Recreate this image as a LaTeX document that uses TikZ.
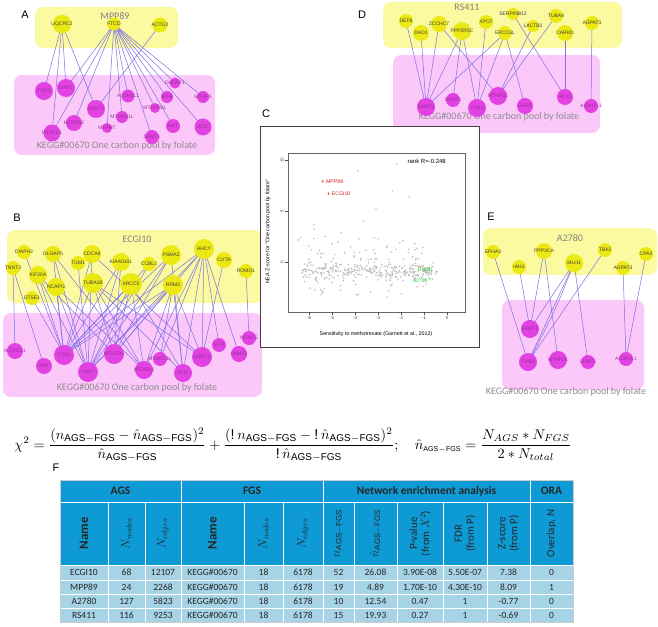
\documentclass[tikz,border=0pt]{standalone}
\usepackage{fontspec}
\setmainfont{Liberation Sans}
\newfontfamily\calib{Carlito}
\usepackage{amsmath}
\usepackage{graphicx}
\usetikzlibrary{positioning,calc}

\definecolor{boxyellow}{RGB}{252,250,160}
\definecolor{nodeyellow}{RGB}{236,232,20}
\definecolor{boxpink}{RGB}{252,200,250}
\definecolor{nodepink}{RGB}{226,66,226}
\definecolor{linkblue}{RGB}{124,112,226}
\definecolor{labpink}{RGB}{150,50,150}
\definecolor{headblue}{RGB}{14,154,212}
\definecolor{rowblue}{RGB}{166,211,229}
\definecolor{ptgray}{RGB}{190,190,190}
\definecolor{ptred}{RGB}{225,30,30}
\definecolor{ptgreen}{RGB}{40,200,40}

\pgfdeclarelayer{boxes}\pgfdeclarelayer{links}
\pgfsetlayers{boxes,links,main}

\newcommand{\bang}{\text{!}\mkern3.5mu}

\tikzset{
  ynode/.style={circle, fill=nodeyellow, inner sep=0pt},
  pnode/.style={circle, fill=nodepink, inner sep=0pt},
  ylab/.style={font=\fontsize{5}{5.5}\selectfont, text=black!75, inner sep=0pt},
  plab/.style={font=\fontsize{5}{5.5}\selectfont, text=labpink, inner sep=0pt},
  ybox/.style={fill=boxyellow, rounded corners=8pt},
  pbox/.style={fill=boxpink, rounded corners=8pt},
  settitle/.style={font=\calib\fontsize{10}{12}\selectfont, text=black!50, inner sep=0pt},
  keggtext/.style={font=\calib\fontsize{10}{12}\selectfont, text=black!45, inner sep=0pt},
  ppi/.style={draw=linkblue, line width=0.5pt},
  panelletter/.style={font=\fontsize{11}{13}\selectfont, inner sep=0pt},
  axtext/.style={font=\fontsize{4.5}{5}\selectfont, inner sep=1pt},
  ptlab/.style={font=\fontsize{5.2}{6}\selectfont, inner sep=0.8pt},
  headone/.style={font=\calib\bfseries\fontsize{11.5}{13}\selectfont, text=black!85},
  headtwo/.style={font=\calib\fontsize{11}{12}\selectfont, text=black!85, rotate=90, align=center, inner sep=0pt},
  cell/.style={font=\calib\fontsize{9.5}{11}\selectfont, text=black!85, inner sep=0pt},
  sep/.style={white, line width=0.8pt}
}

\begin{document}
\begin{tikzpicture}[x=1pt, y=-1pt]
\useasboundingbox (0,0) rectangle (658,626);

% panel letters
\node[panelletter] (lab-a) at (25,15) {A};
\node[panelletter] (lab-b) at (17,218) {B};
\node[panelletter] (lab-c) at (266,114) {C};
\node[panelletter] (lab-d) at (362,15) {D};
\node[panelletter] (lab-e) at (491,217) {E};
\node[panelletter] (lab-f) at (56,468) {F};

% panel A
\begin{pgfonlayer}{boxes}
\path[ybox] (35,7) rectangle (178,48);
\path[pbox] (14,75) rectangle (215,155);
\end{pgfonlayer}
\node[settitle] (a-title) at (115,16) {MPP89};
\node[keggtext] (a-kegg) at (117,146) {KEGG\#00670 One carbon pool by folate};
\foreach \n/\x/\y/\r in {UQCRC2/62/24/9.3, FTCD/114/24/6.5, ACTG2/160/25/7.5}
  {\node[ynode, minimum size=2*\r] (a-\n) at (\x,\y) {};
   \node[ylab] (a-\n-t) at (a-\n) {\n};}
\foreach \n/\x/\y/\r in {TYMS/44/91/9, GART/66/88/9, SHMT2/96/109/9, ALDH1L1/128/96/6.5,
    DHFRP1/175/83/5.5, MTR/167/97/6, MTHFS/203/97/6, MTHFD2L/155/108/5, MTHFD1L/122/117/6,
    MTHFD2/74/123/8, MTFMT/107/128/5, MTHFD1/52/133/8.5, SHMT1/152/137/7, AMT/173/126/7, ATIC/203/127/8.5}
  {\node[pnode, minimum size=2*\r] (a-\n) at (\x,\y) {};
   \node[plab] (a-\n-t) at (a-\n) {\n};}
\begin{pgfonlayer}{links}
\foreach \src/\dst in {UQCRC2/TYMS, UQCRC2/GART, UQCRC2/MTHFD1, UQCRC2/SHMT2, ACTG2/SHMT2,
    FTCD/GART, FTCD/MTHFD1, FTCD/MTHFD2, FTCD/MTFMT, FTCD/MTHFD1L, FTCD/ALDH1L1, FTCD/SHMT1,
    FTCD/MTHFD2L, FTCD/AMT, FTCD/MTR, FTCD/ATIC, FTCD/DHFRP1, FTCD/MTHFS}
  \draw[ppi] (a-\src.center) -- (a-\dst.center);
\end{pgfonlayer}

% panel D
\begin{pgfonlayer}{boxes}
\path[ybox] (383,2) rectangle (622,48);
\path[pbox] (393,55) rectangle (600,133);
\end{pgfonlayer}
\node[settitle] (d-title) at (467,7) {RS411};
\node[keggtext] (d-kegg) at (499,117) {KEGG\#00670 One carbon pool by folate};
\foreach \n/\x/\y/\r in {DEF8/406/21/7, DAD1/421/33/8, ZCCHC7/439/24/8, PPP2R5C/462/31/9, XPO7/486/22/7,
    SERPINB12/513/14/6, ERCC6L/505/33/7, LACTB2/533/26/6, TUBA8/556/16/7, CARKD/565/33/8, AGPAT3/592/23/7}
  {\node[ynode, minimum size=2*\r] (d-\n) at (\x,\y) {};
   \node[ylab] (d-\n-t) at (d-\n) {\n};}
\foreach \n/\x/\y/\r in {SHMT2/426/107/9, SHMT1/453/100/7, TYMS/477/108/9, MTHFD1/498/96/9,
    GART/525/106/8, ATIC/565/97/8, ALDH1L1/591/106/7}
  {\node[pnode, minimum size=2*\r] (d-\n) at (\x,\y) {};
   \node[plab] (d-\n-t) at (d-\n) {\n};}
\begin{pgfonlayer}{links}
\foreach \src/\dst in {DEF8/SHMT2, DAD1/SHMT2, ZCCHC7/SHMT2, PPP2R5C/SHMT2, PPP2R5C/SHMT1, PPP2R5C/TYMS,
    ZCCHC7/MTHFD1, XPO7/TYMS, ERCC6L/TYMS, ERCC6L/GART, ERCC6L/SHMT2, LACTB2/MTHFD1, TUBA8/MTHFD1,
    SERPINB12/ATIC, CARKD/ATIC, AGPAT3/ALDH1L1}
  \draw[ppi] (d-\src.center) -- (d-\dst.center);
\end{pgfonlayer}

% panel B
\begin{pgfonlayer}{boxes}
\path[ybox] (7,230) rectangle (262,303);
\path[pbox] (3,313) rectangle (262,397);
\end{pgfonlayer}
\node[settitle] (b-title) at (137,239) {ECGI10};
\node[keggtext] (b-kegg) at (137,388) {KEGG\#00670 One carbon pool by folate};
\foreach \n/\x/\y/\r in {DIAPH3/24/252/7, DLGAP5/53/254/8, CDCA8/92/254/9, TGM1/78/263/7, KIAA0101/121/262/9,
    PSMA2/171/255/10, AHCY/204/249/10, CUTA/224/260/8, TNNT3/13/268/7, KIF20A/38/275/9, NCAPG/56/287/9,
    CCBL2/149/264/7, ROMO1/246/271/7, TUBA1B/93/283/10, XRCC5/131/284/11, RRM2/173/285/10, GTSE1/32/298/7}
  {\node[ynode, minimum size=2*\r] (b-\n) at (\x,\y) {};
   \node[ylab] (b-\n-t) at (b-\n) {\n};}
\foreach \n/\x/\y/\r in {ALDH1L1/15/351/8, AMT/44/366/8, TYMS/64/355/10, GART/88/372/10, MTHFD1/114/354/10,
    MTHFD2/144/370/9, MTHFD1L/160/359/7, ATIC/183/373/9, SHMT2/202/357/10, MTR/219/345/7, SHMT1/239/354/8,
    MTHFS/249/338/7}
  {\node[pnode, minimum size=2*\r] (b-\n) at (\x,\y) {};
   \node[plab] (b-\n-t) at (b-\n) {\n};}
\begin{pgfonlayer}{links}
\foreach \src/\dst in {DIAPH3/TYMS, TNNT3/ALDH1L1, TNNT3/AMT, DLGAP5/TYMS, DLGAP5/GART, DLGAP5/MTHFD2,
    KIF20A/TYMS, KIF20A/GART, KIF20A/MTHFD1, NCAPG/TYMS, NCAPG/GART, NCAPG/MTHFD2, GTSE1/TYMS,
    CDCA8/TYMS, CDCA8/GART, CDCA8/SHMT2, TGM1/GART, TUBA1B/TYMS, TUBA1B/MTHFD1, TUBA1B/MTHFD2,
    TUBA1B/ATIC, TUBA1B/SHMT2, KIAA0101/TYMS, KIAA0101/GART, KIAA0101/MTHFD1, XRCC5/TYMS, XRCC5/GART,
    XRCC5/MTHFD1, XRCC5/MTHFD2, XRCC5/ATIC, CCBL2/TYMS, CCBL2/GART, PSMA2/TYMS, PSMA2/GART,
    PSMA2/MTHFD1, PSMA2/ATIC, RRM2/TYMS, RRM2/GART, RRM2/MTHFD1, RRM2/MTHFD2, RRM2/MTHFD1L,
    RRM2/SHMT2, RRM2/ATIC, AHCY/TYMS, AHCY/GART, AHCY/MTHFD1, AHCY/MTHFD1L, AHCY/ATIC, AHCY/SHMT2,
    AHCY/MTR, AHCY/SHMT1, AHCY/MTHFD2, CUTA/SHMT2, ROMO1/MTHFS}
  \draw[ppi] (b-\src.center) -- (b-\dst.center);
\end{pgfonlayer}

% panel E
\begin{pgfonlayer}{boxes}
\path[ybox] (483,228) rectangle (657,275);
\path[pbox] (502,300) rectangle (644,390);
\end{pgfonlayer}
\node[settitle] (e-title) at (570,238) {A2780};
\node[keggtext] (e-kegg) at (566,392) {KEGG\#00670 One carbon pool by folate};
\foreach \n/\x/\y/\r in {EPHA3/493/252/7, IAH1/519/267/7, PPP3CA/544/251/8, MLH1/574/263/9,
    TBX2/605/250/7, AGPAT3/623/268/7, CPA2/646/254/7}
  {\node[ynode, minimum size=2*\r] (e-\n) at (\x,\y) {};
   \node[ylab] (e-\n-t) at (e-\n) {\n};}
\foreach \n/\x/\y/\r in {SHMT2/530/329/9, TYMS/528/362/9, MTHFD1/558/360/9, SHMT1/588/362/7, ALDH1L1/626/359/7}
  {\node[pnode, minimum size=2*\r] (e-\n) at (\x,\y) {};
   \node[plab] (e-\n-t) at (e-\n) {\n};}
\begin{pgfonlayer}{links}
\foreach \src/\dst in {EPHA3/TYMS, IAH1/SHMT2, PPP3CA/SHMT2, PPP3CA/MTHFD1, MLH1/SHMT2, MLH1/TYMS,
    MLH1/SHMT1, TBX2/TYMS, AGPAT3/ALDH1L1, CPA2/ALDH1L1}
  \draw[ppi] (e-\src.center) -- (e-\dst.center);
\draw[ppi] (e-MLH1.center) to[bend left=4] (e-TYMS.center);
\end{pgfonlayer}

% panel C
\node[draw=black!75, fill=white, line width=0.6pt, minimum width=219pt, minimum height=221pt, anchor=north west] (c-box) at (260,126) {};
\node[draw=black!60, line width=0.4pt, minimum width=177pt, minimum height=159pt, anchor=north west] (c-frame) at (288,153) {};
\node[axtext, rotate=90, font=\fontsize{5.3}{6}\selectfont] (c-ylab) at (268,232) {NEA Z-score for "One carbon pool by folate"};
\node[axtext, font=\fontsize{5.3}{6}\selectfont] (c-xlab) at (376,334) {Sensitivity to methotrexate (Garnett et al., 2012)};
\begin{scope}[shift={(447,262)}, x=23pt, y=10.2pt]
\pgfmathsetseed{17}
\foreach \i in {1,...,290}
  {\pgfmathsetmacro{\u}{-6.3+5.8*rnd}\pgfmathsetmacro{\v}{-0.9+0.5*(rand+rand)}
   \fill[ptgray] (\u,\v) circle (0.9pt);}
\foreach \i in {1,...,40}
  {\pgfmathsetmacro{\u}{-6.4+5.6*rnd}\pgfmathsetmacro{\v}{-3.6+2.6*rnd}
   \fill[ptgray] (\u,\v) circle (0.9pt);}
\foreach \i in {1,...,45}
  {\pgfmathsetmacro{\u}{-6.4+5.4*rnd}\pgfmathsetmacro{\v}{0.2+2.6*rnd*rnd}
   \fill[ptgray] (\u,\v) circle (0.9pt);}
\foreach \u/\v in {-3.88/8.95, -2.19/9.6, -2.38/6.96, -1.65/6.4, -3.09/5.17, -3.64/4.02, -5.78/3.63,
    -5.78/3.2, -6.46/2.16, -5.3/2.5, -4.6/2.9, -5.0/1.8, -4.2/1.5, -3.2/1.2, -2.6/1.6, -5.9/1.2, -1.5/0.5}
  \fill[ptgray] (\u,\v) circle (0.9pt);
\fill[ptred] (-5.4,7.9) circle (1pt);
\fill[ptred] (-5.15,6.7) circle (1pt);
\node[ptlab, text=ptred, anchor=west] (c-mpp) at (-5.3,7.9) {MPP89};
\node[ptlab, text=ptred, anchor=west] (c-ecg) at (-5.05,6.7) {ECGI10};
\fill[ptgreen] (-0.45,-0.95) circle (0.9pt);
\fill[ptgreen] (-0.75,-1.65) circle (0.9pt);
\node[ptlab, text=ptgreen, anchor=east] (c-rs) at (-0.55,-0.75) {RS411};
\node[ptlab, text=ptgreen, anchor=east] (c-a27) at (-0.8,-1.85) {A2780};
\node[anchor=west, inner sep=0pt, font=\fontsize{6}{7}\selectfont] (c-rank) at (-1.72,9.85) {rank R=-0.248};
\foreach \t in {-6,...,0}
  \draw[black!70, line width=0.3pt] (\t,-4.9) -- (\t,-5.2) node[axtext, below] (c-x\t) {\t};
\foreach \t in {0,5,10}
  \draw[black!70, line width=0.3pt] (-6.91,\t) -- (-7.05,\t) node[axtext, rotate=90, anchor=south] (c-y\t) {\t};
\end{scope}

% formula
\node[inner sep=0pt] (chi) at (293,445) {\resizebox{557pt}{!}{$\displaystyle
  \chi^2=\frac{(n_{\mathrm{AGS{-}FGS}}-\hat{n}_{\mathrm{AGS{-}FGS}})^2}{\hat{n}_{\mathrm{AGS{-}FGS}}}
  +\frac{(\bang n_{\mathrm{AGS{-}FGS}}-\bang\hat{n}_{\mathrm{AGS{-}FGS}})^2}{\bang\hat{n}_{\mathrm{AGS{-}FGS}}};\quad
  \hat{n}_{\scriptscriptstyle\mathrm{AGS{-}FGS}}=\frac{N_{AGS}*N_{FGS}}{2*N_{total}}$}};

% table F
\fill[headblue] (60,480) rectangle (573,565);
\fill[rowblue] (60,565) rectangle (573,622);
\draw[sep] (60,502) -- (573,502);
\foreach \y in {565,580,594,608} \draw[sep] (60,\y) -- (573,\y);
\foreach \x in {181,323,530} \draw[sep] (\x,480) -- (\x,622);
\foreach \x in {108,145,244,283,354,397,443,487} \draw[sep] (\x,502) -- (\x,622);
\draw[black!20, line width=0.5pt] (60,480) rectangle (573,622);
\node[headone] (h-ags) at (120.5,491) {AGS};
\node[headone] (h-fgs) at (252,491) {FGS};
\node[headone] (h-nea) at (426.5,491) {Network enrichment analysis};
\node[headone] (h-ora) at (551.5,491) {ORA};
\foreach \x/\txt [count=\hi] in {84/{\bfseries\fontsize{13}{14}\selectfont Name}, 126.5/{\fontsize{12}{13}\selectfont$N_{nodes}$},
    163/{\fontsize{12}{13}\selectfont$N_{edges}$}, 212.5/{\bfseries\fontsize{13}{14}\selectfont Name},
    263.5/{\fontsize{12}{13}\selectfont$N_{nodes}$}, 303/{\fontsize{12}{13}\selectfont$N_{edges}$},
    338.5/{\fontsize{12}{13}\selectfont$n_{\mathrm{AGS{-}FGS}}$}, 375.5/{\fontsize{12}{13}\selectfont$\hat{n}_{\mathrm{AGS{-}FGS}}$},
    420/{P-value\\(from $X^2$)}, 465/{FDR\\(from P)}, 508.5/{Z-score\\(from P)}, 551.5/{Overlap, N}}
  \node[headtwo] (h2-\hi) at (\x,533.5) {\txt};
\foreach \y/\row [count=\ri] in {572.5/{ECGI10,68,12107,KEGG\#00670,18,6178,52,26.08,3.90E-08,5.50E-07,7.38,0},
    587/{MPP89,24,2268,KEGG\#00670,18,6178,19,4.89,1.70E-10,4.30E-10,8.09,1},
    601/{A2780,127,5823,KEGG\#00670,18,6178,10,12.54,0.47,1,-0.77,0},
    615/{RS411,116,9253,KEGG\#00670,18,6178,15,19.93,0.27,1,-0.69,0}}
  \foreach \v [count=\ci] in \row
    {\pgfmathsetmacro{\cx}{{84,126.5,163,212.5,263.5,303,338.5,375.5,420,465,508.5,551.5}[\ci-1]}
     \node[cell] (r\ri-c\ci) at (\cx,\y) {\v};}
\end{tikzpicture}
\end{document}
